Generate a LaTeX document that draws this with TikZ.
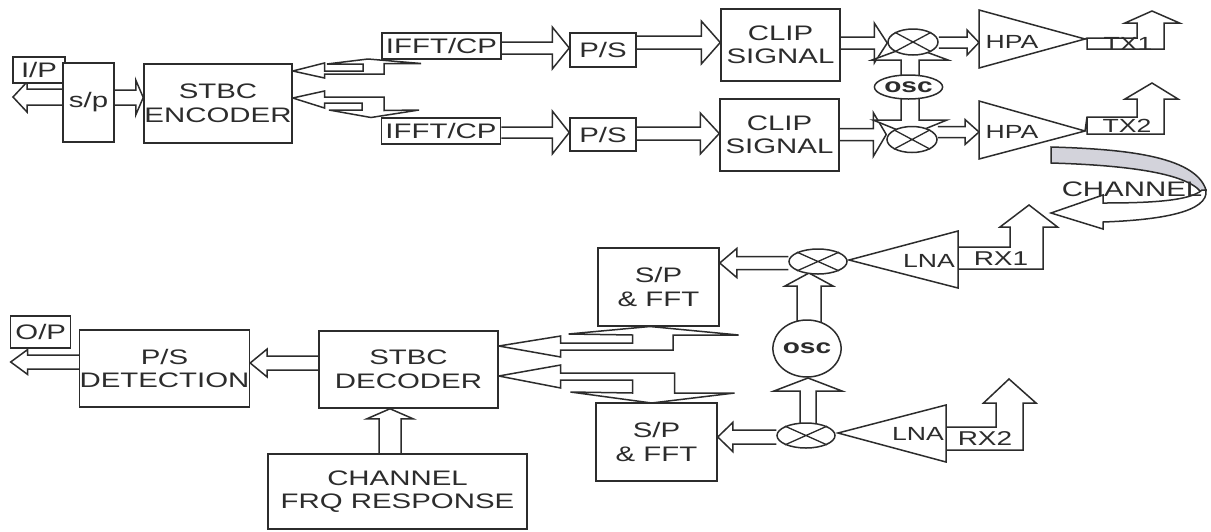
\documentclass[tikz,border=0pt]{standalone}
\usepackage{fontspec}
\setmainfont[FakeStretch=1.4]{Liberation Sans}
\usetikzlibrary{calc,backgrounds,shapes.geometric}
\definecolor{ink}{HTML}{2C2C2C}
\definecolor{band}{HTML}{D3D3DB}
\tikzset{
  ln/.style={draw=ink,line width=1.5pt,line join=miter,miter limit=6},
  lbl/.style={text=ink,font=\fontsize{21}{23.5}\selectfont,align=center,inner sep=0pt},
  lbs/.style={lbl,font=\fontsize{19}{22}\selectfont},
  box/.style={ln,fill=white,lbl,rectangle,inner sep=0pt},
  mixer/.style={ln,fill=white,ellipse,inner sep=0pt,minimum width=50pt,minimum height=26pt},
  oscil/.style={ln,fill=white,ellipse,inner sep=0pt,text=ink,font=\fontsize{20}{22}\bfseries\selectfont},
  amp/.style={ln,fill=white},
  hollow/.style={ln,fill=white},
}
% from, to, half shaft width, head length, half head width
\newcommand\harrow[5]{%
  \coordinate (hA) at (#1);
  \coordinate (hB) at (#2);
  \coordinate (hC) at ($(hB)!#4pt!(hA)$);
  \begin{scope}[on background layer]
  \filldraw[hollow] ($(hA)!#3pt!90:(hB)$) -- ($(hC)!#3pt!-90:(hA)$) -- ($(hC)!#5pt!-90:(hA)$)
    -- (hB) -- ($(hC)!#5pt!90:(hA)$) -- ($(hC)!#3pt!90:(hA)$) -- ($(hA)!#3pt!-90:(hB)$);
  \end{scope}}
\newcommand\xmark[1]{\draw[ln,line width=1.3pt] (#1.north west) -- (#1.south east) (#1.north east) -- (#1.south west);}
\begin{document}
\begin{tikzpicture}[x=1pt,y=-1pt]
\path[use as bounding box] (0,0) rectangle (1211,531);
\begin{scope}[on background layer]
  \fill[white] (0,0) rectangle (1211,531);
\end{scope}
% --- transmitter
\node[box,minimum width=52pt,minimum height=26pt] (ip) at (39,70) {I/P};
\node[box,minimum width=51pt,minimum height=79pt] (sp) at (88.5,102.5) {s/p};
\node[box,minimum width=148pt,minimum height=79pt] (enc) at (218,103.5) {STBC\\ENCODER};
\node[box,minimum width=119pt,minimum height=26pt] (if1) at (441.5,46) {IFFT/CP};
\node[box,minimum width=119pt,minimum height=26pt] (if2) at (441,131) {IFFT/CP};
\node[box,minimum width=66pt,minimum height=34pt] (ps1) at (603,50) {P/S};
\node[box,minimum width=66pt,minimum height=33pt] (ps2) at (603,134.5) {P/S};
\node[box,minimum width=119pt,minimum height=72pt] (clip1) at (780.5,45) {CLIP\\SIGNAL};
\node[box,minimum width=119pt,minimum height=72pt] (clip2) at (779.5,135) {CLIP\\SIGNAL};
\node[mixer] (mt1) at (913,42) {};
\node[mixer] (mt2) at (912,139.5) {};
\xmark{mt1}\xmark{mt2}
\node[oscil,minimum width=63pt,minimum height=24pt] (osct) at (908.5,87) {osc};
\filldraw[amp] (979,10) -- (1085,39) -- (979,68) -- cycle;
\filldraw[amp] (979,101) -- (1085,131) -- (979,159) -- cycle;
\node[lbs] (hpa1) at (1012,42) {HPA};
\node[lbs] (hpa2) at (1012,132) {HPA};
\coordinate (hpa1i) at (979,42.5);
\coordinate (hpa2i) at (979,132);
\coordinate (hpa1o) at (1085,39);
\coordinate (hpa2o) at (1085,131);
\node[lbl,font=\fontsize{19}{20}\selectfont] (tx1) at (1128,44) {TX1};
\node[lbl,font=\fontsize{19}{20}\selectfont] (tx2) at (1127,126) {TX2};
% --- receiver
\node[box,minimum width=121pt,minimum height=78pt] (sf1) at (658.5,287) {S/P\\[0.5pt]\& FFT};
\node[box,minimum width=121pt,minimum height=78pt] (sf2) at (656.5,442) {S/P\\[0.5pt]\& FFT};
\node[mixer,minimum width=58pt,minimum height=25pt] (mr1) at (818,261.5) {};
\node[mixer,minimum width=58pt,minimum height=25pt] (mr2) at (806,435.5) {};
\xmark{mr1}\xmark{mr2}
\node[oscil,minimum width=59pt,minimum height=57pt] (oscr) at (807,348.5) {osc};
\filldraw[amp] (958,231) -- (849,260) -- (958,288) -- cycle;
\filldraw[amp] (946,405) -- (838,433) -- (946,462) -- cycle;
\node[lbs] (lna1) at (929,261) {LNA};
\node[lbs] (lna2) at (918,434) {LNA};
\coordinate (lna1i) at (849,260);
\coordinate (lna2i) at (838,433);
\node[lbl,font=\fontsize{20}{22}\selectfont] (rx1) at (1001,259) {RX1};
\node[lbl,font=\fontsize{20}{22}\selectfont] (rx2) at (985,439) {RX2};
\node[box,minimum width=60pt,minimum height=32pt] (op) at (40.7,332) {O/P};
\node[box,minimum width=169pt,minimum height=77pt] (det) at (164.5,368.5) {P/S\\DETECTION};
\node[box,minimum width=179pt,minimum height=77pt] (dec) at (408.5,369.5) {STBC\\DECODER};
\node[box,minimum width=259pt,minimum height=75pt] (cfr) at (397.5,491.5) {CHANNEL\\FRQ RESPONSE};
\node[lbl] (chan) at (1132,189) {CHANNEL};
\coordinate (ipout) at (13,97);
\coordinate (opout) at (10.7,362);
% --- straight hollow connectors
\harrow{sp.west|-0,97}{ipout}{8}{14}{15}
\harrow{sp.east|-0,97.5}{enc.west|-0,97.5}{7.5}{7.5}{17.5}
\harrow{if1.east|-0,48}{ps1.west|-0,48}{6}{17}{21}
\harrow{if2.east|-0,132.5}{ps2.west|-0,132.5}{5.5}{17}{21.5}
\harrow{ps1.east|-0,42.5}{clip1.west|-0,42.5}{6.5}{19}{21.5}
\harrow{ps2.east|-0,133.5}{clip2.west|-0,133.5}{6.5}{19}{20.5}
\harrow{clip1.east|-0,43}{mt1.west|-0,43}{6}{13}{20}
\harrow{clip2.east|-0,134.5}{mt2.west|-0,134.5}{6}{13}{22}
\harrow{mt1.east|-0,42.5}{hpa1i}{5.5}{12}{12.5}
\harrow{mt2.east|-0,132}{hpa2i}{5.5}{14}{12.5}
\harrow{910,75}{910,46}{9}{14}{38}
\harrow{910,99}{910,135}{9}{15}{37}
\harrow{mr1.west|-0,263}{sf1.east|-0,263}{6.5}{17}{14.5}
\harrow{mr2.west|-0,437}{sf2.east|-0,437}{7}{15}{14.5}
\harrow{809,322}{809,273}{12}{13}{24}
\harrow{808,424}{808,378}{8}{13}{34}
\harrow{dec.west|-0,363}{det.east|-0,363}{7}{17}{14}
\harrow{det.west|-0,362}{opout}{7}{17}{12.5}
\harrow{cfr.north-|390,0}{dec.south-|390,0}{11}{10}{23}
\begin{scope}[on background layer]
% --- bent hollow connectors
\filldraw[hollow] (enc.east|-0,71) -- (324.5,63) -- (324.5,71) -- (363,71) -- (363,64) -- (327,64) -- (368,59) -- (421,63.5) -- (384,63.5) -- (384,74) -- (324.5,74) -- (324.5,78) -- cycle;
\filldraw[hollow] (enc.east|-0,98) -- (324.5,91) -- (324.5,97) -- (384,97) -- (384,110.5) -- (419,110) -- (371,117.5) -- (329,110) -- (362,110) -- (362,103) -- (324.5,103) -- (324.5,108) -- cycle;
\filldraw[hollow] (dec.east|-0,346) -- (560.7,336) -- (560.7,343) -- (632.6,343) -- (632.6,335) -- (568.6,334) -- (650,326.5) -- (738.5,335) -- (673,335) -- (673,350) -- (560.7,350) -- (560.7,357) -- cycle;
\filldraw[hollow] (dec.east|-0,376) -- (560.7,365) -- (560.7,373) -- (674.5,373) -- (674.5,393) -- (734.6,393) -- (651.6,403) -- (570.5,392) -- (632.6,393) -- (632.6,380) -- (560.7,380) -- (560.7,388) -- cycle;
% --- antenna arrows
\filldraw[hollow] (hpa1o) -- (1087,38) -- (1137,38) -- (1137,23) -- (1125,23) -- (1152,11) -- (1179.5,23) -- (1164,23) -- (1164,49) -- (1087,49) -- (1087,38);
\filldraw[hollow] (hpa2o) -- (1087,117) -- (1137,117) -- (1137,99) -- (1125,99) -- (1152,83) -- (1178,99) -- (1164,99) -- (1164,134) -- (1087,134) -- (1087,117);
\filldraw[hollow] (958,247) -- (1010,247) -- (1010,227) -- (1000,227) -- (1029,205) -- (1057.5,227) -- (1043,227) -- (1043,269) -- (958,269) -- cycle;
\filldraw[hollow] (946,427) -- (996,427) -- (996,403) -- (983.5,403) -- (1009,379) -- (1036,403) -- (1023,403) -- (1023,450) -- (946,450) -- cycle;
% --- channel
\filldraw[ln,fill=band] (1051,147) .. controls (1120,149) and (1195,155) .. (1206,190)
  -- (1201,192) .. controls (1185,172) and (1120,165) .. (1051,163) -- cycle;
\filldraw[hollow] (1051,213) -- (1103,195) -- (1103,203) .. controls (1150,203) and (1190,201) .. (1202,190)
  -- (1206,190) .. controls (1209,212) and (1160,220) .. (1103,222) -- (1103,229) -- cycle;
\end{scope}
\end{tikzpicture}
\end{document}
